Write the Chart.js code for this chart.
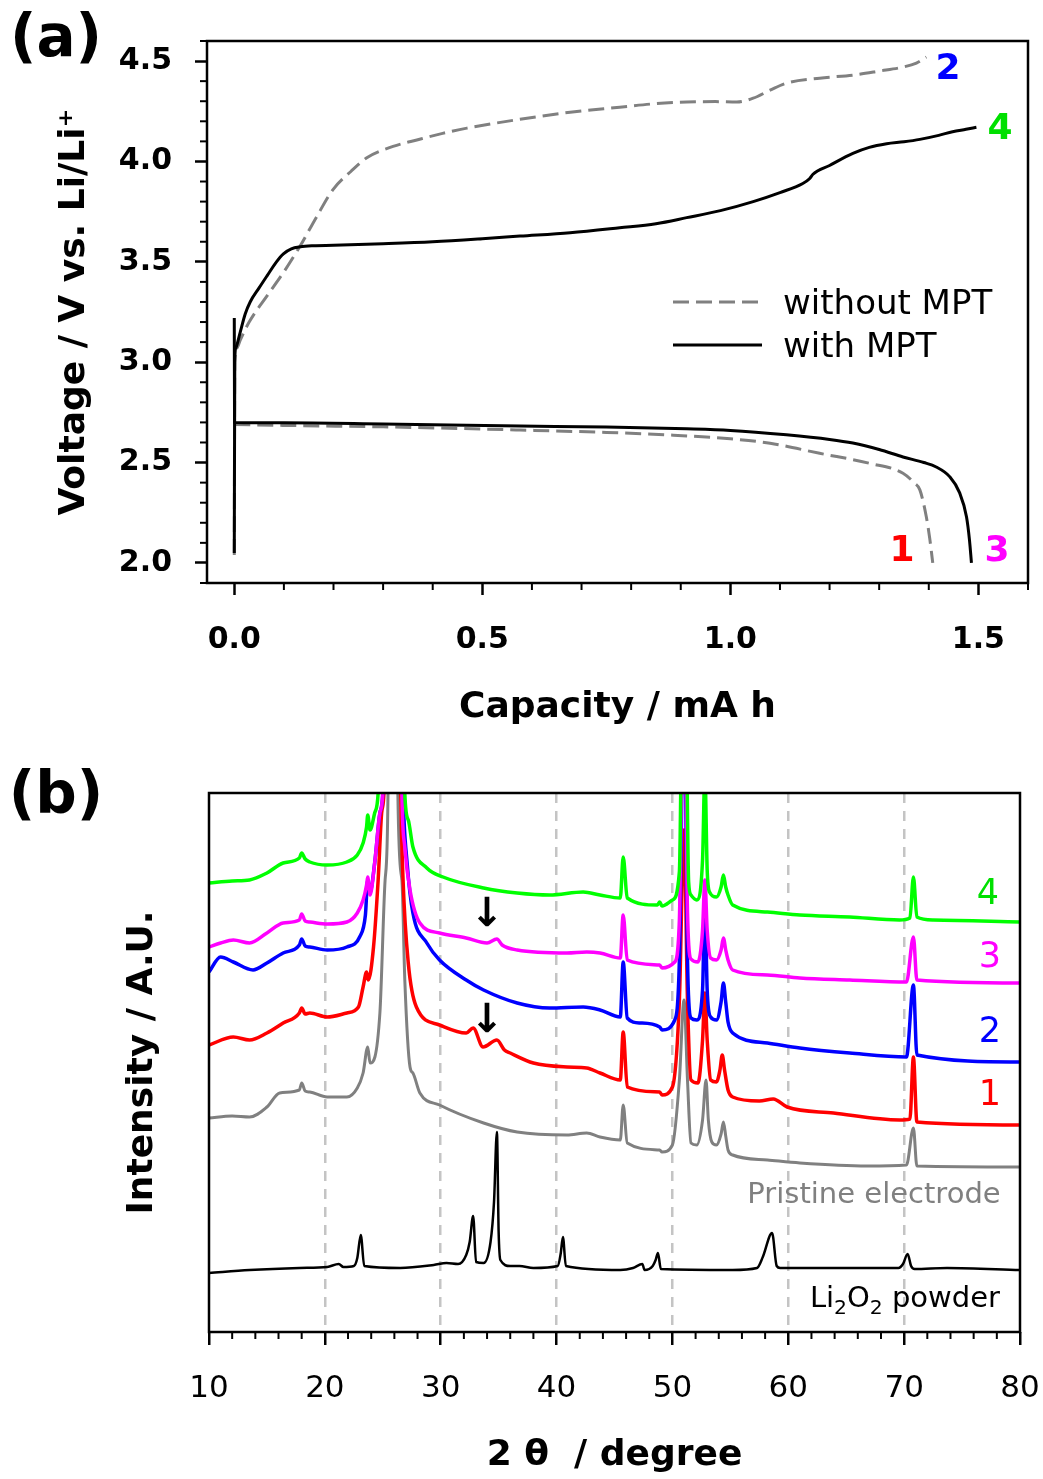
<!DOCTYPE html>
<html>
<head>
<meta charset="utf-8">
<script src="https://cdn.jsdelivr.net/npm/chart.js@4.4.1/dist/chart.umd.min.js"></script>
<style>
  html, body { margin: 0; padding: 0; background: #fff; }
  body { width: 1043px; height: 1479px; position: relative; overflow: hidden; font-family: "DejaVu Sans", sans-serif; }
  canvas { position: absolute; left: 0; }
  .t { position: absolute; transform: translate(-50%, -50%); white-space: nowrap; line-height: 1; }
  .tl { position: absolute; transform: translate(0, -50%); white-space: nowrap; line-height: 1; }
  .tr { position: absolute; transform: translate(-100%, -50%); white-space: nowrap; line-height: 1; }
  sub { font-size: 70%; vertical-align: -0.35em; line-height: 0; }
</style>
</head>
<body>
<canvas id="ca" width="1043" height="740" style="top:0"></canvas>
<canvas id="cb" width="1043" height="739" style="top:740px"></canvas>

<div class="t" style="left:56px;top:36px;font-size:58px;font-weight:bold;">(a)</div>
<div class="t" style="left:56px;top:793px;font-size:58px;font-weight:bold;">(b)</div>

<div class="t" style="left:948px;top:67px;font-size:36px;font-weight:bold;color:#0000ff;">2</div>
<div class="t" style="left:1000px;top:127px;font-size:36px;font-weight:bold;color:#00e000;">4</div>
<div class="t" style="left:902px;top:549px;font-size:36px;font-weight:bold;color:#ff0000;">1</div>
<div class="t" style="left:997px;top:549px;font-size:36px;font-weight:bold;color:#ff00ff;">3</div>

<svg style="position:absolute;left:0;top:0" width="1043" height="740">
  <line x1="673" y1="302" x2="762" y2="302" stroke="#808080" stroke-width="3" stroke-dasharray="16,7"/>
  <line x1="673" y1="345" x2="762" y2="345" stroke="#000" stroke-width="3"/>
</svg>
<div class="tl" style="left:783px;top:302px;font-size:34px;">without MPT</div>
<div class="tl" style="left:783px;top:345px;font-size:34px;">with MPT</div>

<div class="t" style="left:988px;top:892px;font-size:35px;color:#00e000;">4</div>
<div class="t" style="left:990px;top:955px;font-size:35px;color:#ff00ff;">3</div>
<div class="t" style="left:990px;top:1030px;font-size:35px;color:#0000ff;">2</div>
<div class="t" style="left:990px;top:1093px;font-size:35px;color:#ff0000;">1</div>
<div class="t" style="left:487px;top:912px;font-size:40px;font-weight:bold;">↓</div>
<div class="t" style="left:487px;top:1018px;font-size:40px;font-weight:bold;">↓</div>
<div class="t" style="left:874px;top:1193px;font-size:29px;color:#808080;">Pristine electrode</div>
<div class="tr" style="left:1000px;top:1297px;font-size:29px;">Li<sub>2</sub>O<sub>2</sub> powder</div>

<script>
// ---------------- Panel (a) data: [capacity mA h, voltage V] ----------------
const withMptCharge = [
  [0, 2.05], [0.001, 3.0], [0.003, 3.07], [0.012, 3.15], [0.022, 3.24], [0.032, 3.30],
  [0.05, 3.37], [0.066, 3.43], [0.085, 3.50], [0.099, 3.54], [0.115, 3.565], [0.133, 3.575],
  [0.16, 3.58], [0.2, 3.582], [0.3, 3.59], [0.4, 3.60], [0.5, 3.615], [0.576, 3.628],
  [0.677, 3.645], [0.777, 3.67], [0.85, 3.69], [0.912, 3.72], [0.98, 3.755], [1.046, 3.80],
  [1.1, 3.845], [1.146, 3.89], [1.16, 3.915], [1.166, 3.935], [1.2, 3.98], [1.247, 4.04],
  [1.28, 4.07], [1.315, 4.088], [1.35, 4.098], [1.382, 4.11], [1.42, 4.13], [1.448, 4.148],
  [1.475, 4.16], [1.496, 4.17]
];
const withMptDischarge = [
  [0, 3.22], [0.0005, 2.70], [0.1, 2.698], [0.3, 2.692], [0.576, 2.682], [0.75, 2.677],
  [0.912, 2.668], [1.0, 2.66], [1.113, 2.638], [1.2, 2.615], [1.247, 2.597], [1.3, 2.565],
  [1.348, 2.528], [1.39, 2.50], [1.415, 2.478], [1.442, 2.43], [1.462, 2.35], [1.476, 2.23],
  [1.482, 2.115], [1.486, 2.0]
];
const withoutMptCharge = [
  [0, 2.04], [0.001, 3.0], [0.005, 3.07], [0.012, 3.11], [0.03, 3.2], [0.066, 3.33],
  [0.1, 3.45], [0.133, 3.58], [0.165, 3.72], [0.199, 3.86], [0.235, 3.95], [0.268, 4.02],
  [0.32, 4.075], [0.368, 4.107], [0.42, 4.14], [0.469, 4.166], [0.576, 4.21], [0.677, 4.245],
  [0.777, 4.27], [0.85, 4.288], [0.912, 4.296], [0.97, 4.298], [1.013, 4.296], [1.046, 4.315],
  [1.08, 4.355], [1.113, 4.39], [1.18, 4.415], [1.247, 4.43], [1.30, 4.45], [1.348, 4.47],
  [1.375, 4.49], [1.395, 4.52]
];
const withoutMptDischarge = [
  [0, 2.69], [0.1, 2.685], [0.3, 2.678], [0.576, 2.662], [0.75, 2.65], [0.878, 2.637],
  [1.0, 2.618], [1.08, 2.596], [1.18, 2.546], [1.281, 2.496], [1.348, 2.447], [1.37, 2.40],
  [1.382, 2.364], [1.395, 2.23], [1.402, 2.12], [1.408, 2.0]
];
const xTicksA = [0, 0.5, 1.0, 1.5];
const xMinorA = [0.1, 0.2, 0.3, 0.4, 0.6, 0.7, 0.8, 0.9, 1.1, 1.2, 1.3, 1.4, 1.6];
const yTicksA = [2.0, 2.5, 3.0, 3.5, 4.0, 4.5];
const yMinorA = [1.9, 2.1, 2.2, 2.3, 2.4, 2.6, 2.7, 2.8, 2.9, 3.1, 3.2, 3.3, 3.4, 3.6, 3.7, 3.8, 3.9, 4.1, 4.2, 4.3, 4.4, 4.6];

// ---------------- Panel (b) data: [2θ degree, intensity a.u.] ----------------
const xrd4 = [
  [10, 449], [12, 451], [13.5, 452], [15.0, 459], [16.4, 469], [17.8, 474], [18.0, 479], [18.3, 473],
  [18.7, 470], [20.2, 467], [21.9, 470], [22.8, 477], [23.3, 489], [23.6, 505], [23.7, 517], [23.9, 502],
  [24.3, 519], [24.6, 539], [25.0, 700], [26.0, 2000], [26.75, 700], [26.9, 539], [27.2, 512], [27.6, 485],
  [28.8, 464], [30.2, 455], [33.7, 444], [36.6, 439], [39.4, 437], [42.3, 440], [43.75, 437], [45.5, 434],
  [45.75, 475], [46.1, 434], [48.7, 427], [48.9, 430], [49.1, 426], [50.0, 432], [50.6, 460], [51.0, 800],
  [51.4, 450], [51.6, 437], [52.1, 432], [52.6, 472], [52.8, 560], [53.0, 462], [53.2, 440], [53.8, 435],
  [54.2, 445], [54.4, 457], [54.6, 445], [54.8, 437], [55.2, 427], [58.2, 420], [61.0, 417], [65.3, 415],
  [69.6, 412], [70.5, 414], [70.8, 455], [71.1, 415], [72.5, 412], [80, 410]
];
const xrd3 = [
  [10, 385], [11, 389], [12.1, 392], [13.5, 389], [15.0, 399], [16.4, 409], [17.8, 412], [18.0, 418],
  [18.3, 411], [18.7, 410], [20.2, 408], [21.9, 410], [22.8, 419], [23.3, 432], [23.6, 447], [23.7, 455],
  [23.9, 437], [24.3, 469], [24.75, 519], [25.0, 539], [25.3, 700], [26.0, 2000], [26.5, 700], [26.65, 539],
  [26.9, 485], [27.35, 442], [28.2, 409], [29.9, 399], [32.2, 394], [34.0, 389], [34.85, 393], [35.3, 387],
  [36.6, 382], [40.9, 379], [42.6, 380], [43.75, 379], [45.5, 374], [45.75, 417], [46.1, 372], [48.9, 367],
  [49.1, 364], [50.2, 370], [50.6, 412], [51.0, 700], [51.3, 420], [51.6, 373], [52.2, 370], [52.6, 402],
  [52.8, 452], [53.0, 402], [53.3, 374], [53.8, 372], [54.2, 382], [54.4, 394], [54.6, 382], [54.8, 372],
  [55.2, 362], [58.2, 357], [61.0, 354], [65.3, 352], [70.2, 350], [70.8, 395], [71.1, 352], [80, 349]
];
const xrd2 = [
  [10, 360], [11.0, 375], [12.1, 370], [13.8, 362], [15.0, 369], [16.4, 379], [17.8, 387], [18.0, 393],
  [18.3, 386], [18.7, 385], [20.2, 382], [21.9, 385], [23.0, 395], [23.5, 417], [23.7, 452], [23.9, 440],
  [24.3, 469], [24.75, 519], [25.0, 539], [25.3, 700], [26.0, 2000], [26.5, 700], [26.75, 539], [27.1, 469],
  [27.6, 419], [28.8, 389], [29.9, 372], [32.2, 352], [33.7, 342], [36.6, 329], [39.4, 324], [42.3, 325],
  [43.75, 322], [45.5, 315], [45.75, 370], [46.1, 314], [47.2, 309], [48.9, 305], [49.1, 302], [50.2, 312],
  [50.6, 372], [51.0, 650], [51.3, 372], [51.6, 314], [52.1, 312], [52.6, 342], [52.8, 432], [53.0, 342],
  [53.3, 315], [53.8, 312], [54.2, 330], [54.4, 349], [54.6, 330], [54.8, 310], [55.2, 299], [58.2, 289],
  [61.0, 284], [65.3, 279], [70.2, 275], [70.8, 347], [71.1, 277], [80, 270]
];
const xrd1 = [
  [10, 287], [12.1, 295], [13.5, 292], [15.0, 299], [16.4, 309], [17.8, 319], [18.0, 324], [18.3, 318],
  [18.7, 319], [20.2, 315], [21.9, 319], [22.9, 325], [23.3, 345], [23.6, 360], [23.75, 352], [24.2, 385],
  [24.6, 452], [24.9, 519], [25.1, 539], [25.4, 700], [26.0, 2000], [26.4, 700], [26.55, 539], [26.75, 452],
  [27.2, 369], [27.9, 325], [29.9, 307], [32.2, 299], [32.8, 304], [33.65, 285], [34.85, 292], [35.5, 282],
  [36.0, 279], [38.0, 269], [40.9, 265], [42.6, 264], [43.75, 259], [45.5, 252], [45.75, 300], [46.1, 245],
  [48.9, 240], [49.1, 237], [50.0, 245], [50.6, 332], [51.0, 502], [51.3, 332], [51.6, 252], [52.2, 249],
  [52.6, 292], [52.8, 339], [53.0, 292], [53.3, 252], [53.8, 250], [54.1, 262], [54.3, 277], [54.5, 262],
  [54.8, 242], [55.2, 235], [57.5, 231], [58.7, 233], [59.9, 225], [63.9, 219], [69.6, 212], [70.5, 213],
  [70.8, 275], [71.1, 210], [80, 207]
];
const xrdPristine = [
  [10, 214], [12, 216], [13.5, 215], [15.0, 225], [16.1, 239], [17.8, 242], [18.0, 249], [18.3, 241],
  [18.7, 240], [20.2, 235], [21.9, 235], [22.8, 244], [23.3, 259], [23.7, 285], [23.9, 269], [24.75, 319],
  [25.2, 452], [25.45, 539], [25.9, 2000], [26.3, 539], [26.65, 452], [26.9, 352], [27.35, 265], [27.6, 259],
  [28.2, 239], [29.9, 227], [33.7, 209], [36.6, 200], [40.9, 197], [42.6, 199], [43.75, 195], [45.5, 192],
  [45.75, 227], [46.1, 189], [48.9, 182], [49.1, 180], [50.0, 187], [50.6, 252], [51.0, 332], [51.3, 252],
  [51.6, 189], [52.1, 187], [52.6, 212], [52.9, 252], [53.1, 212], [53.4, 190], [53.8, 187], [54.2, 198],
  [54.4, 210], [54.6, 196], [54.8, 182], [55.2, 177], [58.2, 172], [61.0, 169], [66.8, 166], [70.2, 167],
  [70.8, 204], [71.1, 166], [80, 165]
];
const xrdLi2O2 = [
  [10, 59], [13.5, 62], [17.8, 64], [20.2, 65], [21.2, 68], [21.6, 65], [22.5, 66], [22.8, 74], [23.1, 97],
  [23.4, 66], [26.5, 64], [29.4, 67], [30.5, 69], [31.5, 68], [32.2, 77], [32.5, 90], [32.8, 116], [33.05, 70],
  [33.7, 69], [34.3, 90], [34.6, 130], [34.85, 200], [35.0, 100], [35.15, 72], [36.0, 66], [36.8, 66],
  [38.0, 64], [40.1, 66], [40.35, 78], [40.55, 95], [40.8, 66], [45.5, 62], [46.6, 64], [47.4, 68],
  [47.6, 62], [48.3, 66], [48.55, 72], [48.75, 79], [49.0, 63], [55.2, 62], [57.3, 64], [57.8, 75],
  [58.6, 99], [59.0, 66], [59.3, 64], [63.9, 64], [69.5, 64], [69.9, 68], [70.3, 78], [70.6, 66],
  [70.9, 63], [73.7, 64], [80, 62]
];
const xTicksB = [10, 20, 30, 40, 50, 60, 70, 80];
const xMinorB = [12, 14, 16, 18, 22, 24, 26, 28, 32, 34, 36, 38, 42, 44, 46, 48, 52, 54, 56, 58, 62, 64, 66, 68, 72, 74, 76, 78];

// ---------------- helpers & plugins ----------------
const toXY = arr => arr.map(p => ({ x: p[0], y: p[1] }));

const frameAndMinor = {
  id: 'frameAndMinor',
  afterDraw(chart, args, opts) {
    const ctx = chart.ctx, a = chart.chartArea;
    ctx.save();
    ctx.strokeStyle = '#000';
    ctx.lineWidth = opts.minorWidth || 2;
    (opts.minor || []).forEach(m => {
      const s = chart.scales[m.axis];
      m.values.forEach(v => {
        const p = s.getPixelForValue(v);
        ctx.beginPath();
        if (s.isHorizontal()) { ctx.moveTo(p, a.bottom); ctx.lineTo(p, a.bottom + m.len); }
        else { ctx.moveTo(a.left, p); ctx.lineTo(a.left - m.len, p); }
        ctx.stroke();
      });
    });
    ctx.lineWidth = opts.frameWidth || 2.5;
    ctx.strokeRect(a.left, a.top, a.right - a.left, a.bottom - a.top);
    ctx.restore();
  }
};

Chart.defaults.font.family = '"DejaVu Sans", sans-serif';
Chart.defaults.color = '#000';

const lineDs = (label, data, color, width, dash) => ({
  label, data: toXY(data), borderColor: color, backgroundColor: color, borderWidth: width,
  borderDash: dash || [], pointRadius: 0, cubicInterpolationMode: 'monotone', fill: false
});

// ---------------- Chart (a) ----------------
new Chart(document.getElementById('ca'), {
  type: 'line',
  data: {
    datasets: [
      lineDs('with MPT', withMptCharge, '#000', 3),
      lineDs('with MPT discharge', withMptDischarge, '#000', 3),
      lineDs('without MPT', withoutMptCharge, '#808080', 3, [16, 7]),
      lineDs('without MPT discharge', withoutMptDischarge, '#808080', 3, [16, 7])
    ]
  },
  options: {
    responsive: false, animation: false,
    layout: { padding: { top: 41, right: 15, left: 0, bottom: 0 } },
    plugins: {
      legend: { display: false }, tooltip: { enabled: false },
      frameAndMinor: {
        minor: [{ axis: 'x', values: xMinorA, len: 7 }, { axis: 'y', values: yMinorA, len: 7 }],
        minorWidth: 2, frameWidth: 2.5
      }
    },
    scales: {
      x: {
        type: 'linear', min: -0.055, max: 1.6,
        afterBuildTicks: s => { s.ticks = xTicksA.map(v => ({ value: v })); },
        afterFit: s => { s.height = 157; s.paddingLeft = 0; s.paddingRight = 0; },
        grid: { drawOnChartArea: false, drawTicks: true, tickLength: 12, tickWidth: 2.5, tickColor: '#000' },
        border: { display: false },
        ticks: { padding: 27, maxRotation: 0, autoSkip: false, color: '#000',
          font: { size: 30, weight: 'bold' }, callback: v => Number(v).toFixed(1) },
        title: { display: true, text: 'Capacity / mA h', color: '#000',
          font: { size: 36, weight: 'bold' }, padding: { top: 0, bottom: 11 } }
      },
      y: {
        min: 1.9, max: 4.6,
        afterBuildTicks: s => { s.ticks = yTicksA.map(v => ({ value: v })); },
        afterFit: s => { s.width = 207; },
        grid: { drawOnChartArea: false, drawTicks: true, tickLength: 12, tickWidth: 2.5, tickColor: '#000' },
        border: { display: false },
        ticks: { padding: 23, color: '#000', font: { size: 30, weight: 'bold' },
          callback: v => Number(v).toFixed(1) },
        title: { display: true, text: 'Voltage / V vs. Li/Li⁺', color: '#000',
          font: { size: 36, weight: 'bold' }, padding: { top: 53, bottom: 0 } }
      }
    }
  },
  plugins: [frameAndMinor]
});

// ---------------- Chart (b) ----------------
new Chart(document.getElementById('cb'), {
  type: 'line',
  data: {
    datasets: [
      lineDs('4', xrd4, '#00ff00', 3.5),
      lineDs('3', xrd3, '#ff00ff', 3.5),
      lineDs('2', xrd2, '#0000ff', 3.5),
      lineDs('1', xrd1, '#ff0000', 3.5),
      lineDs('Pristine electrode', xrdPristine, '#808080', 3),
      lineDs('Li2O2 powder', xrdLi2O2, '#000', 2.5)
    ]
  },
  options: {
    responsive: false, animation: false,
    layout: { padding: { top: 53, right: 23, left: 0, bottom: 0 } },
    plugins: {
      legend: { display: false }, tooltip: { enabled: false },
      frameAndMinor: { minor: [{ axis: 'x', values: xMinorB, len: 7 }], minorWidth: 2, frameWidth: 2.5 }
    },
    scales: {
      x: {
        type: 'linear', min: 10, max: 80,
        afterBuildTicks: s => { s.ticks = xTicksB.map(v => ({ value: v })); },
        afterFit: s => { s.height = 147; s.paddingLeft = 0; s.paddingRight = 0; },
        grid: {
          drawOnChartArea: true, drawTicks: true, tickLength: 13, tickWidth: 2.5, tickColor: '#000',
          lineWidth: 2.5,
          color: c => (c.tick && (c.tick.value === 10 || c.tick.value === 80)) ? 'rgba(0,0,0,0)' : '#c4c4c4'
        },
        border: { display: false, dash: [10, 8] },
        ticks: { padding: 25, maxRotation: 0, autoSkip: false, color: '#000', font: { size: 31 } },
        title: { display: true, text: '2 θ  / degree', color: '#000',
          font: { size: 36, weight: 'bold' }, padding: { top: 0, bottom: 2 } }
      },
      y: {
        min: 0, max: 539,
        afterFit: s => { s.width = 209; },
        grid: { display: false },
        border: { display: false },
        ticks: { display: false },
        title: { display: true, text: 'Intensity / A.U.', color: '#000',
          font: { size: 36, weight: 'bold' }, padding: { top: 121, bottom: 0 } }
      }
    }
  },
  plugins: [frameAndMinor]
});
</script>
</body>
</html>
